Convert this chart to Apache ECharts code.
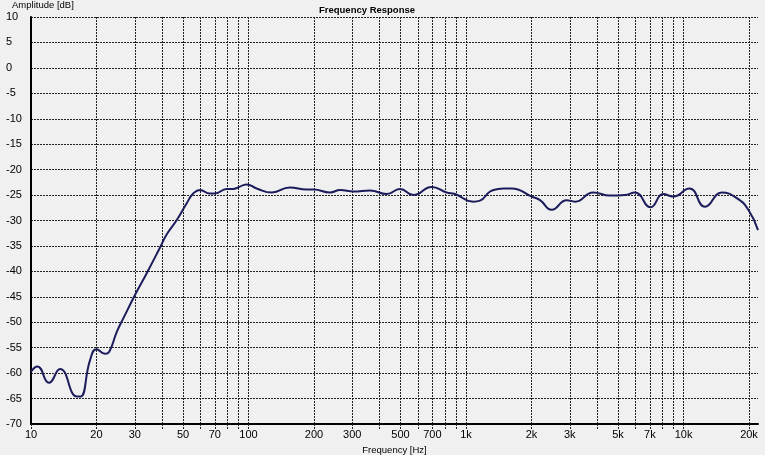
<!DOCTYPE html>
<html>
<head>
<meta charset="utf-8">
<script src="https://cdn.jsdelivr.net/npm/echarts@6/dist/echarts.min.js"></script>
<style>
html,body{margin:0;padding:0;background:#f0f0f0;}
#c{width:765px;height:455px;}
</style>
</head>
<body>
<div id="c"></div>
<script>
// Frequency (Hz) and amplitude (dB)
const freqs = [10, 10.7, 12.1, 13.6, 16.3, 16.9, 18.7, 20, 21.9, 22.9, 24.8, 26.6, 30.1, 34, 39.2, 42.1, 46.8, 52, 55.7, 59.8, 66.5, 70, 79.5, 85, 89.5, 98, 109, 128, 155, 185, 199, 237, 264, 304, 362, 432, 497, 573, 695, 815, 890, 1081, 1160, 1290, 1408, 1487, 1623, 2006, 2189, 2477, 2903, 3171, 3849, 4590, 5380, 5980, 7060, 8070, 8970, 10640, 12560, 14990, 17570, 19860, 22000];
const amps  = [-59.7, -58.7, -61.9, -59.2, -64.6, -64.6, -57.4, -55.3, -56.2, -55.8, -51.9, -49.2, -44.6, -40.4, -35.3, -32.7, -29.9, -26.6, -24.7, -24.0, -24.7, -24.7, -23.8, -23.8, -23.5, -22.9, -23.7, -24.5, -23.5, -23.9, -23.9, -24.5, -24.0, -24.3, -24.1, -24.8, -23.8, -25.0, -23.4, -24.5, -24.8, -26.3, -26.1, -24.3, -23.8, -23.7, -23.7, -25.3, -26.0, -27.9, -26.0, -26.3, -24.5, -25.1, -25.0, -24.5, -27.4, -24.8, -25.3, -23.7, -27.3, -24.5, -25.6, -27.9, -31.9];
const gridFreqs = [10,20,30,40,50,60,70,80,90,100,200,300,400,500,600,700,800,900,1000,2000,3000,4000,5000,6000,7000,8000,9000,10000,20000];
const labelFreqs = [10,20,30,50,70,100,200,300,500,700,1000,2000,3000,5000,7000,10000,20000];
const fMin = 10, fMax = 22000;
const yMin = -70, yMax = 10, yStep = 5;

const lg = v => Math.log10(v);
const seriesData = freqs.map((f, i) => [lg(f), amps[i]]);
const fmtFreq = v => {
  const f = Math.round(Math.pow(10, v));
  return f >= 1000 ? (f / 1000) + 'k' : String(f);
};
const font = 'Liberation Sans, Arial, sans-serif';
const dotted = { color: '#222', width: 1, type: [2, 1] };

const chart = echarts.init(document.getElementById('c'), null, { renderer: 'canvas' });
chart.setOption({
  backgroundColor: '#f0f0f0',
  animation: false,
  title: {
    text: 'Frequency Response',
    left: 362, top: 0, textAlign: 'center',
    textStyle: { fontFamily: font, fontSize: 9.5, fontWeight: 'bold', color: '#000' }
  },
  grid: { left: 31, right: 7, top: 17, bottom: 31, containLabel: false, outerBoundsMode: 'none' },
  xAxis: {
    type: 'value',
    min: lg(fMin), max: lg(fMax),
    name: 'Frequency [Hz]',
    nameLocation: 'middle',
    nameGap: 19,
    nameTextStyle: { fontFamily: font, fontSize: 9.5, color: '#000' },
    axisLine: { show: true, onZero: false, lineStyle: { color: '#000', width: 2 } },
    axisTick: { show: true, customValues: gridFreqs.map(lg), length: 5, inside: false, lineStyle: dotted },
    axisLabel: {
      customValues: labelFreqs.map(lg),
      formatter: fmtFreq, margin: 5,
      fontFamily: font, fontSize: 11, color: '#000'
    },
    splitLine: { show: true, lineStyle: dotted }
  },
  yAxis: {
    type: 'value',
    min: yMin, max: yMax, interval: yStep,
    name: 'Amplitude [dB]',
    nameLocation: 'end',
    nameGap: 7,
    nameTextStyle: { fontFamily: font, fontSize: 9.5, color: '#000', align: 'left', padding: [0, 0, 0, -19] },
    axisLine: { show: true, lineStyle: { color: '#000', width: 2 } },
    axisTick: { show: false },
    axisLabel: { align: 'left', margin: 25, fontFamily: font, fontSize: 11, color: '#000' },
    splitLine: { show: true, lineStyle: dotted }
  },
  series: [{
    type: 'line',
    data: seriesData,
    smooth: 0.5,
    showSymbol: false,
    lineStyle: { color: '#1c1c5c', width: 2 },
    clip: true
  }]
});
</script>
</body>
</html>
